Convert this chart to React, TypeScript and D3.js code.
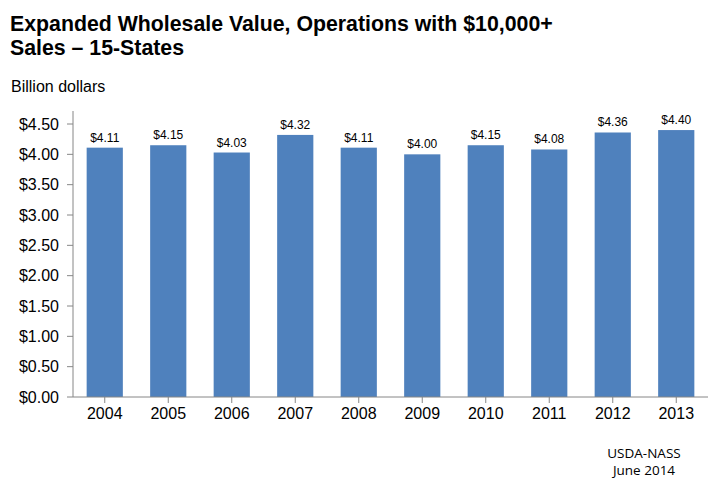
import React from 'react';
import * as d3 from 'd3';

const years = ['2004', '2005', '2006', '2007', '2008', '2009', '2010', '2011', '2012', '2013'];
const values = [4.11, 4.15, 4.03, 4.32, 4.11, 4.0, 4.15, 4.08, 4.36, 4.4];
const yTicks = [0, 0.5, 1, 1.5, 2, 2.5, 3, 3.5, 4, 4.5];

const W = 727;
const H = 484;
const left = 73;
const right = 708;
const bottom = 397;
const top = 124;

const App: React.FC = () => {
  const x = d3.scaleBand<string>().domain(years).range([left, right]).paddingInner(0.43).paddingOuter(0.215);
  const y = d3.scaleLinear().domain([0, 4.5]).range([bottom, top]);
  const fmt = (v: number) => '$' + d3.format('.2f')(v);

  return (
    <div style={{position: 'absolute', left: 0, top: 0}}>
      <svg width={W} height={H} style={{display: 'block', background: '#fff'}} fontFamily="Arial, 'Liberation Sans', sans-serif">
        <text x={10} y={31} fontSize={21.3} fontWeight="bold">Expanded Wholesale Value, Operations with $10,000+</text>
        <text x={10} y={55} fontSize={21.3} fontWeight="bold">Sales – 15-States</text>
        <text x={11} y={92} fontSize={16}>Billion dollars</text>

        {/* bars */}
        {years.map((yr, i) => (
          <g key={yr}>
            <rect x={x(yr)} y={y(values[i])} width={x.bandwidth()} height={bottom - y(values[i])} fill="#4F81BD" />
            <text x={x(yr)! + x.bandwidth() / 2} y={y(values[i]) - 6} fontSize={12} textAnchor="middle">{fmt(values[i])}</text>
          </g>
        ))}

        {/* y axis */}
        <line x1={left} x2={left} y1={111} y2={bottom} stroke="#868686" />
        {yTicks.map(t => (
          <g key={t}>
            <line x1={left - 6} x2={left} y1={y(t)} y2={y(t)} stroke="#868686" />
            <text x={left - 14} y={y(t) + 5.5} fontSize={16} textAnchor="end">{fmt(t)}</text>
          </g>
        ))}

        {/* x axis */}
        <line x1={left} x2={right} y1={bottom} y2={bottom} stroke="#868686" />
        {years.map(yr => (
          <g key={yr}>
            <line x1={x(yr)! + x.bandwidth() / 2} x2={x(yr)! + x.bandwidth() / 2} y1={bottom} y2={bottom + 6} stroke="#868686" />
            <text x={x(yr)! + x.bandwidth() / 2} y={bottom + 22} fontSize={16} textAnchor="middle">{yr}</text>
          </g>
        ))}

        <text x={644} y={458} fontSize={13.5} textAnchor="middle" fontFamily="'Open Sans', sans-serif">USDA-NASS</text>
        <text x={644} y={475} fontSize={13.5} textAnchor="middle" fontFamily="'Open Sans', sans-serif">June 2014</text>
      </svg>
    </div>
  );
};

export default App;
